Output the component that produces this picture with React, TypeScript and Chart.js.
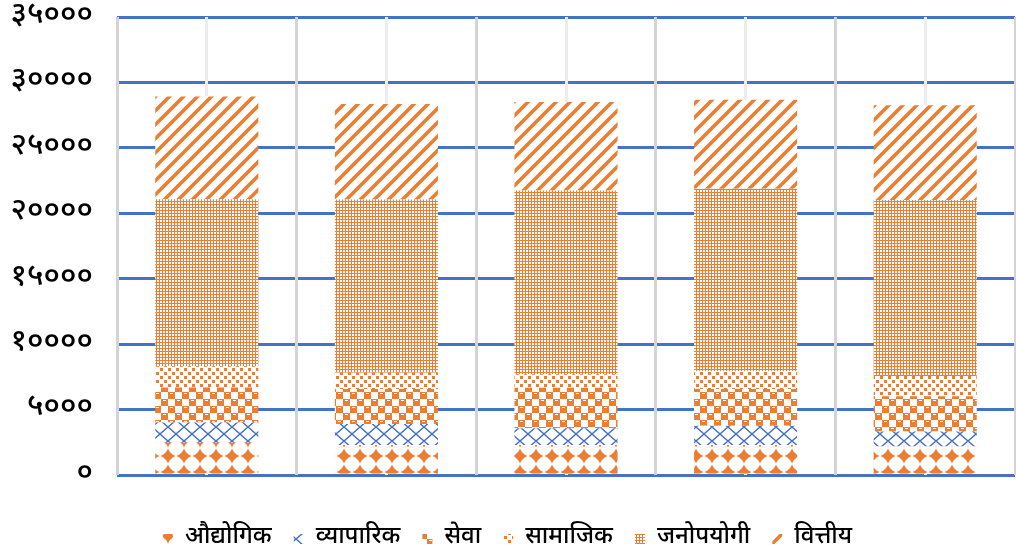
import React, { useEffect, useRef } from "react";
import { Chart, registerables } from "chart.js";

Chart.register(...registerables);

// ---- data ----
const categories = ["क", "ख", "ग", "घ", "ङ"];
const seriesNames = ["औद्योगिक", "व्यापारिक", "सेवा", "सामाजिक", "जनोपयोगी", "वित्तीय"];
const industrial = [2460, 2300, 2300, 2300, 2180];
const commercial = [1560, 1590, 1280, 1460, 1150];
const service = [2670, 2690, 3080, 2820, 2690];
const social = [1615, 1230, 1030, 1350, 1540];
const publicUtility = [12770, 13250, 14050, 13950, 13460];
const financial = [7850, 7300, 6770, 6800, 7230];
const yTickValues = [0, 5000, 10000, 15000, 20000, 25000, 30000, 35000];
const yTickLabels = ["०", "५०००", "१००००", "१५०००", "२००००", "२५०००", "३००००", "३५०००"];

const ORANGE = "#ED7D31";
const BLUE = "#4472C4";
const FONT = "'Noto Sans Devanagari', 'Lohit Devanagari', 'Nirmala UI', Mangal, 'Noto Sans', sans-serif";

type Draw = (g: CanvasRenderingContext2D, w: number, h: number) => void;

function makePattern(ctx: CanvasRenderingContext2D, w: number, h: number, draw: Draw): CanvasPattern | string {
  const c = document.createElement("canvas");
  c.width = w;
  c.height = h;
  const g = c.getContext("2d");
  if (!g) return ORANGE;
  g.fillStyle = "#ffffff";
  g.fillRect(0, 0, w, h);
  draw(g, w, h);
  return ctx.createPattern(c, "repeat") || ORANGE;
}

const drawIndustrial: Draw = (g) => {
  g.fillStyle = ORANGE;
  const cx = 8, cy = 8, r = 7.5, k = 2;
  g.beginPath();
  g.moveTo(cx, cy - r);
  g.quadraticCurveTo(cx + k, cy - k, cx + r, cy);
  g.quadraticCurveTo(cx + k, cy + k, cx, cy + r);
  g.quadraticCurveTo(cx - k, cy + k, cx - r, cy);
  g.quadraticCurveTo(cx - k, cy - k, cx, cy - r);
  g.fill();
  g.beginPath();
  g.arc(cx, cy, 4, 0, Math.PI * 2);
  g.fill();
};

const drawCommercial: Draw = (g) => {
  g.strokeStyle = BLUE;
  g.lineWidth = 1.4;
  g.beginPath();
  g.moveTo(0, 0);
  g.lineTo(8, 7);
  g.lineTo(16, 0);
  g.moveTo(0, 14);
  g.lineTo(8, 7);
  g.lineTo(16, 14);
  g.stroke();
  g.fillStyle = BLUE;
  g.fillRect(7, 6, 2, 2);
};

const drawService: Draw = (g) => {
  g.fillStyle = ORANGE;
  g.fillRect(0, 0, 7, 7);
  g.fillRect(7, 7, 7, 7);
  g.fillStyle = "#ffffff";
  g.fillRect(2, 1, 3, 1);
  g.fillRect(9, 8, 3, 1);
};

const drawSocial: Draw = (g) => {
  g.fillStyle = ORANGE;
  g.fillRect(0, 0, 3, 3);
  g.fillRect(4, 4, 3, 3);
};

const drawPublic: Draw = (g) => {
  g.fillStyle = ORANGE;
  g.fillRect(0, 0, 6, 6);
  g.fillStyle = "#ffffff";
  g.fillRect(1, 1, 2, 2);
  g.fillRect(4, 1, 2, 2);
  g.fillRect(1, 4, 2, 2);
  g.fillRect(4, 4, 2, 2);
};

const drawFinancial: Draw = (g) => {
  g.strokeStyle = ORANGE;
  g.lineWidth = 3.6;
  g.beginPath();
  g.moveTo(-2, 16);
  g.lineTo(16, -2);
  g.moveTo(-9, 9);
  g.lineTo(9, -9);
  g.moveTo(5, 23);
  g.lineTo(23, 5);
  g.stroke();
};

export default function App() {
  const ref = useRef<HTMLCanvasElement>(null);

  useEffect(() => {
    const canvas = ref.current;
    if (!canvas) return;
    const ctx = canvas.getContext("2d");
    if (!ctx) return;

    const fills = [
      makePattern(ctx, 16, 16, drawIndustrial),
      makePattern(ctx, 16, 14, drawCommercial),
      makePattern(ctx, 14, 14, drawService),
      makePattern(ctx, 8, 8, drawSocial),
      makePattern(ctx, 6, 6, drawPublic),
      makePattern(ctx, 14, 14, drawFinancial),
    ];
    const values = [industrial, commercial, service, social, publicUtility, financial];

    const chart = new Chart(ctx, {
      type: "bar",
      data: {
        labels: categories,
        datasets: seriesNames.map((name, i) => ({
          label: name,
          data: values[i],
          backgroundColor: fills[i] as any,
          borderWidth: 0,
          categoryPercentage: 1,
          barPercentage: 0.574,
        })),
      },
      options: {
        responsive: false,
        animation: false,
        layout: { autoPadding: false, padding: { top: 17, right: 1, left: 0, bottom: -11 } },
        plugins: {
          tooltip: { enabled: false },
          legend: {
            position: "bottom",
            labels: {
              boxWidth: 10,
              boxHeight: 10,
              padding: 22,
              color: "#000",
              font: { family: FONT, size: 24, weight: "500" },
            },
          },
        },
        scales: {
          x: {
            stacked: true,
            offset: true,
            ticks: { display: false },
            border: { display: false },
            grid: { offset: true, color: "#d4d4d4", lineWidth: 3, drawTicks: false, z: -1 },
            afterFit: (s: any) => {
              s.height = 30;
            },
          },
          x2: {
            type: "category",
            labels: categories,
            position: "top",
            offset: true,
            ticks: { display: false },
            border: { display: false },
            grid: { offset: false, color: "#ececec", lineWidth: 3, drawTicks: false, z: -1 },
            afterFit: (s: any) => {
              s.height = 0;
            },
          },
          y: {
            stacked: true,
            min: 0,
            max: 35000,
            border: { display: false },
            grid: {
              color: BLUE,
              lineWidth: 3,
              drawTicks: true,
              tickLength: 24,
              tickColor: "rgba(0,0,0,0)",
              z: -2,
            },
            afterBuildTicks: (s: any) => {
              s.ticks = yTickValues.map((v) => ({ value: v }));
            },
            ticks: {
              padding: 0,
              color: "#000",
              font: { family: FONT, size: 31, lineHeight: 1, weight: "500" },
              callback: (v: any) => {
                const idx = yTickValues.indexOf(Number(v));
                return idx >= 0 ? yTickLabels[idx] : "";
              },
            },
            afterFit: (s: any) => {
              s.width = 117;
            },
          },
        },
      },
    });

    return () => chart.destroy();
  }, []);

  return (
    <div style={{ position: "absolute", left: 0, top: 0, width: 1016, height: 550, background: "#fff" }}>
      <canvas ref={ref} width={1016} height={550} style={{ display: "block" }} />
    </div>
  );
}
